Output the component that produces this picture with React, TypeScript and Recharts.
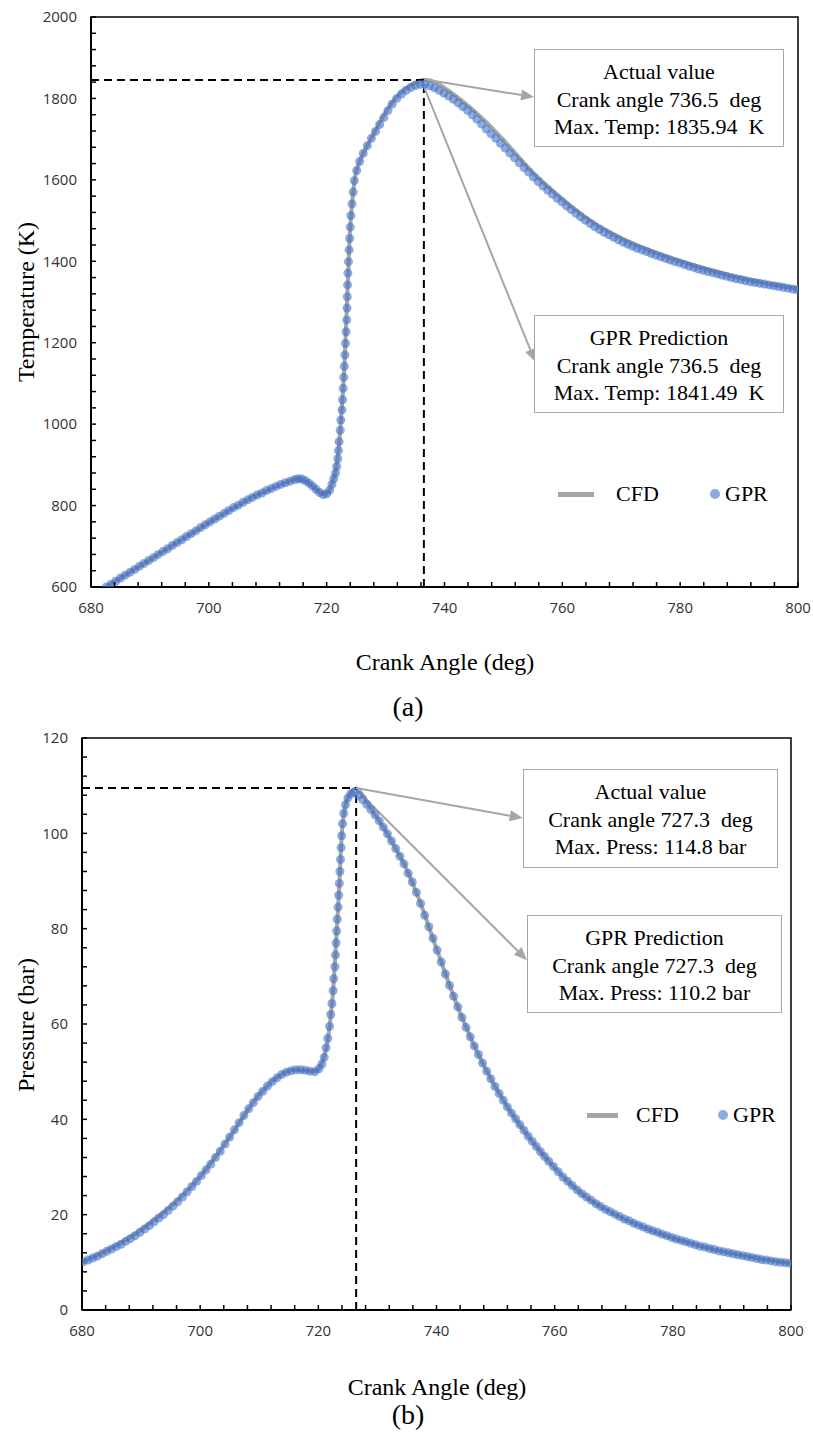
import { ComposedChart, Line, Scatter, XAxis, YAxis, ReferenceLine, ReferenceArea } from 'recharts'

// (a) temperature, GPR points
const tempGprAngle = [
  682.6, 683.4, 684.2, 685.0, 685.8, 686.6, 687.4, 688.2, 689.0, 689.8, 690.6, 691.4, 692.2, 693.0, 693.8,
  694.6, 695.4, 696.2, 697.0, 697.8, 698.6, 699.4, 700.2, 701.0, 701.8, 702.6, 703.4, 704.2, 705.0, 705.8,
  706.6, 707.4, 708.2, 709.0, 709.8, 710.6, 711.4, 712.2, 713.0, 713.8, 714.6, 715.2, 715.8, 716.4, 717.0,
  717.6, 718.2, 718.8, 719.4, 720.0, 720.5, 720.9, 721.2, 721.5, 721.7, 721.9, 722.0, 722.1, 722.3, 722.4,
  722.6, 722.7, 722.8, 722.9, 723.0, 723.1, 723.2, 723.3, 723.4, 723.45, 723.5, 723.55, 723.6, 723.7, 723.8,
  723.9, 724.0, 724.1, 724.3, 724.5, 724.7, 725.1, 725.6, 726.2, 726.9, 727.6, 728.3, 729.0, 729.7, 730.4,
  731.1, 731.9, 732.7, 733.5, 734.3, 735.1, 735.9, 736.7, 737.5, 738.3, 739.1, 739.9, 740.7, 741.5, 742.3,
  743.1, 743.9, 744.7, 745.5, 746.3, 747.1, 747.9, 748.7, 749.5, 750.3, 751.1, 751.9, 752.7, 753.5, 754.3,
  755.1, 755.9, 756.7, 757.5, 758.3, 759.1, 759.9, 760.7, 761.5, 762.3, 763.1, 763.9, 764.7, 765.5, 766.3,
  767.1, 767.9, 768.7, 769.5, 770.3, 771.1, 771.9, 772.7, 773.5, 774.3, 775.1, 775.9, 776.7, 777.5, 778.3,
  779.1, 779.9, 780.7, 781.5, 782.3, 783.1, 783.9, 784.7, 785.5, 786.3, 787.1, 787.9, 788.7, 789.5, 790.3,
  791.1, 791.9, 792.7, 793.5, 794.3, 795.1, 795.9, 796.7, 797.5, 798.3, 799.1, 799.9,
]
const tempGprValue = [
  600, 607, 614, 622, 629, 636, 643, 651, 658, 665, 672, 680, 687, 694, 702,
  709, 716, 724, 731, 738, 746, 753, 760, 767, 774, 781, 788, 795, 801, 808,
  814, 820, 826, 831, 837, 842, 847, 852, 856, 860, 864, 866, 865, 861, 855,
  848, 840, 832, 827, 829, 838, 852, 866, 880, 896, 915, 935, 957, 985, 1010,
  1035, 1060, 1088, 1115, 1142, 1170, 1198, 1227, 1256, 1285, 1313, 1342, 1371, 1399, 1428,
  1456, 1484, 1512, 1541, 1570, 1598, 1623, 1645, 1665, 1684, 1702, 1719, 1736, 1753, 1770,
  1786, 1800, 1811, 1820, 1827, 1832, 1835, 1835, 1831, 1826, 1820, 1813, 1806, 1798, 1789,
  1780, 1771, 1760, 1749, 1737, 1725, 1713, 1702, 1690, 1678, 1666, 1654, 1642, 1630, 1619,
  1607, 1596, 1585, 1575, 1565, 1555, 1546, 1536, 1527, 1518, 1509, 1501, 1493, 1485, 1478,
  1471, 1465, 1459, 1453, 1447, 1442, 1437, 1432, 1428, 1424, 1419, 1415, 1411, 1407, 1403,
  1399, 1396, 1392, 1388, 1385, 1381, 1378, 1375, 1372, 1369, 1366, 1363, 1360, 1357, 1355,
  1352, 1350, 1348, 1346, 1344, 1342, 1340, 1338, 1336, 1334, 1332, 1330,
]

// (a) temperature, CFD curve
const tempCfdAngle = [
  682.6, 686, 690, 695, 700, 705, 708, 710, 712, 713.5, 715, 716, 717, 718, 719.4, 720.3, 721, 721.6, 722,
  722.5, 723, 723.5, 724, 724.4, 724.8, 725.5, 726.5, 728, 730, 732, 734, 735.5, 736.5, 737.5, 738.5, 740,
  742, 744, 747, 750, 755, 760, 765, 770, 775, 780, 785, 790, 795, 800,
]
const tempCfdValue = [
  600, 631, 667, 713, 758, 801, 825, 838, 851, 859, 866, 863, 855, 843, 828, 834, 858, 890, 935,
  1025, 1140, 1315, 1485, 1555, 1605, 1642, 1673, 1714, 1766, 1806, 1830, 1842, 1846, 1845, 1839, 1826,
  1805, 1782, 1743, 1698, 1618, 1553, 1498, 1457, 1426, 1401, 1379, 1360, 1345, 1333,
]

// (b) pressure, GPR points
const pressGprAngle = [
  680.2, 681.0, 681.8, 682.6, 683.4, 684.2, 685.0, 685.8, 686.6, 687.4, 688.2, 689.0, 689.8, 690.6, 691.4,
  692.2, 693.0, 693.8, 694.6, 695.4, 696.2, 697.0, 697.8, 698.6, 699.4, 700.2, 701.0, 701.8, 702.6, 703.4,
  704.2, 705.0, 705.8, 706.6, 707.4, 708.2, 709.0, 709.8, 710.6, 711.4, 712.2, 713.0, 713.8, 714.6, 715.4,
  716.2, 717.0, 717.8, 718.6, 719.4, 720.1, 720.6, 721.0, 721.3, 721.6, 721.9, 722.1, 722.3, 722.5, 722.6,
  722.8, 722.9, 723.0, 723.1, 723.2, 723.35, 723.45, 723.55, 723.65, 723.75, 723.85, 723.95, 724.1, 724.3, 724.6,
  725.0, 725.5, 726.1, 726.8, 727.5, 728.2, 728.9, 729.6, 730.3, 731.0, 731.7, 732.4, 733.1, 733.8, 734.5,
  735.2, 735.9, 736.6, 737.3, 738.0, 738.7, 739.4, 740.1, 740.8, 741.5, 742.2, 742.9, 743.6, 744.3, 745.0,
  745.7, 746.4, 747.1, 747.8, 748.5, 749.2, 749.9, 750.6, 751.3, 752.0, 752.7, 753.4, 754.1, 754.8, 755.5,
  756.2, 756.9, 757.6, 758.3, 759.0, 759.8, 760.6, 761.4, 762.2, 763.0, 763.8, 764.6, 765.4, 766.2, 767.0,
  767.8, 768.6, 769.4, 770.2, 771.0, 771.8, 772.6, 773.4, 774.2, 775.0, 775.8, 776.6, 777.4, 778.2, 779.0,
  779.8, 780.6, 781.4, 782.2, 783.0, 783.8, 784.6, 785.4, 786.2, 787.0, 787.8, 788.6, 789.4, 790.2, 791.0,
  791.8, 792.6, 793.4, 794.2, 795.0, 795.8, 796.6, 797.4, 798.2, 799.0, 799.8,
]
const pressGprValue = [
  10.1, 10.5, 10.9, 11.3, 11.8, 12.3, 12.8, 13.3, 13.8, 14.4, 15.0, 15.6, 16.3, 17.0, 17.7,
  18.5, 19.3, 20.0, 20.9, 21.8, 22.7, 23.7, 24.8, 25.9, 27.0, 28.2, 29.4, 30.6, 32.0, 33.3,
  34.8, 36.3, 37.8, 39.3, 40.8, 42.2, 43.5, 44.8, 45.9, 47.0, 47.9, 48.7, 49.4, 49.9, 50.2,
  50.4, 50.4, 50.3, 50.1, 50.0, 50.6, 51.6, 53.0, 55.0, 57.0, 59.5, 62.0, 64.3, 67.0, 69.5,
  72.0, 74.5, 77.0, 79.5, 82.0, 84.5, 87.0, 89.5, 92.0, 94.5, 97.0, 99.5, 102.0, 104.2, 106.0,
  107.4, 108.3, 108.6, 108.0, 107.1, 106.1, 105.0, 103.9, 102.6, 101.3, 99.9, 98.4, 96.8, 95.2, 93.6,
  91.6, 89.8, 87.6, 85.3, 82.8, 80.4, 78.0, 75.5, 73.0, 70.5, 68.1, 65.8, 63.6, 61.4, 59.3,
  57.3, 55.4, 53.6, 51.8, 50.1, 48.5, 46.9, 45.4, 44.0, 42.6, 41.3, 40.1, 38.9, 37.7, 36.5,
  35.4, 34.3, 33.2, 32.2, 31.2, 30.1, 29.0, 27.9, 27.0, 26.1, 25.2, 24.4, 23.7, 23.0, 22.3,
  21.7, 21.1, 20.6, 20.1, 19.6, 19.1, 18.7, 18.2, 17.8, 17.4, 17.0, 16.6, 16.3, 15.9, 15.6,
  15.2, 14.9, 14.6, 14.3, 14.0, 13.7, 13.4, 13.2, 12.9, 12.7, 12.4, 12.2, 12.0, 11.8, 11.6,
  11.4, 11.2, 11.0, 10.8, 10.6, 10.5, 10.3, 10.1, 10.0, 9.9, 9.8,
]

// (b) pressure, CFD curve
const pressCfdAngle = [
  680, 690, 700, 705, 710, 713, 716, 719.5, 720.5, 721.5, 722, 722.5, 723, 723.5, 724, 724.5, 725.2, 726.4,
  727.5, 729, 731, 733, 735, 737, 740, 744, 748, 752, 756, 760, 765, 770, 775, 780, 785, 790, 795, 800,
]
const pressCfdValue = [
  10, 16.8, 28, 36.3, 45.2, 48.8, 50.4, 50.1, 51.5, 56, 60.5, 67, 77, 88, 100.5, 105.5, 108, 109.4,
  108, 105, 101.3, 97, 92.3, 86.3, 75.8, 62.3, 51.3, 42.6, 35.7, 29.8, 24, 20.2, 17.4, 15.1, 13.3, 11.9, 10.7, 9.8,
]

const angleTicks = [
  680, 684, 688, 692, 696, 700, 704, 708, 712, 716, 720, 724, 728, 732, 736, 740,
  744, 748, 752, 756, 760, 764, 768, 772, 776, 780, 784, 788, 792, 796, 800,
]
const tempTicks = [
  600, 640, 680, 720, 760, 800, 840, 880, 920, 960, 1000, 1040, 1080, 1120, 1160, 1200, 1240, 1280,
  1320, 1360, 1400, 1440, 1480, 1520, 1560, 1600, 1640, 1680, 1720, 1760, 1800, 1840, 1880, 1920, 1960, 2000,
]
const pressTicks = [
  0, 4, 8, 12, 16, 20, 24, 28, 32, 36, 40, 44, 48, 52, 56, 60, 64, 68, 72, 76, 80, 84, 88, 92, 96, 100,
  104, 108, 112, 116, 120,
]

const SERIF = '"Liberation Serif", "Times New Roman", serif'
const SANS = '"Open Sans", sans-serif'

function zip(angles: number[], values: number[]) {
  return angles.map((angle, i) => ({ angle, value: values[i] }))
}

function makeXTick(step: number) {
  return (props: any) => {
    const { x, y, payload } = props
    const v = payload.value
    return (
      <g>
        <line x1={x} y1={y} x2={x} y2={y - 5} stroke="#000" strokeWidth={1.5} />
        {v % step === 0 && (
          <text x={x} y={y + 21} dy="0.35em" textAnchor="middle" fill="#333" fontSize={15} fontFamily={SANS}>
            {v}
          </text>
        )}
      </g>
    )
  }
}

function makeYTick(step: number) {
  return (props: any) => {
    const { x, y, payload } = props
    const v = payload.value
    return (
      <g>
        <line x1={x} y1={y} x2={x + 5} y2={y} stroke="#000" strokeWidth={1.5} />
        {v % step === 0 && (
          <text x={x - 14} y={y} dy="0.35em" textAnchor="end" fill="#333" fontSize={15} fontFamily={SANS}>
            {v}
          </text>
        )}
      </g>
    )
  }
}

function Arrow(props: any) {
  const { x1, y1, x2, y2 } = props
  const ang = Math.atan2(y2 - y1, x2 - x1)
  const len = 13
  const half = 5.5
  const bx = x2 - len * Math.cos(ang)
  const by = y2 - len * Math.sin(ang)
  const px = -Math.sin(ang) * half
  const py = Math.cos(ang) * half
  return (
    <g>
      <line x1={x1} y1={y1} x2={bx} y2={by} stroke="#a6a6a6" strokeWidth={2} />
      <polygon points={`${x2},${y2} ${bx + px},${by + py} ${bx - px},${by - py}`} fill="#a6a6a6" />
    </g>
  )
}

const gprDot = (p: any) => <circle cx={p.cx} cy={p.cy} r={4.5} fill="#4472C4" fillOpacity={0.6} />

const abs = (left: number, top: number, extra: any = {}) => ({ position: 'absolute' as const, left, top, ...extra })

function InfoBox({ left, top, width, height, lines }: { left: number; top: number; width: number; height: number; lines: string[] }) {
  return (
    <div
      style={abs(left, top, {
        width,
        height,
        boxSizing: 'border-box',
        border: '1.5px solid #a6a6a6',
        background: '#fff',
        fontFamily: SERIF,
        fontSize: '22px',
        lineHeight: '27.5px',
        textAlign: 'center',
        paddingTop: '8px',
        color: '#000',
      })}
    >
      {lines.map((l) => (
        <div key={l} style={{ whiteSpace: 'pre' }}>{l}</div>
      ))}
    </div>
  )
}

function Legend({ swatchX, swatchW, y, cfdX, dotX, gprX }: { swatchX: number; swatchW: number; y: number; cfdX: number; dotX: number; gprX: number }) {
  const text = { fontFamily: SERIF, fontSize: '22px', lineHeight: '22px', color: '#000' }
  return (
    <>
      <div style={abs(swatchX, y - 2.5, { width: swatchW, height: 5, background: '#a6a6a6' })} />
      <div style={abs(cfdX, y - 11, text)}>CFD</div>
      <div style={abs(dotX - 5, y - 5, { width: 10, height: 10, borderRadius: '50%', background: '#8faadc' })} />
      <div style={abs(gprX, y - 11, text)}>GPR</div>
    </>
  )
}

const tempCfd = zip(tempCfdAngle, tempCfdValue)
const tempGpr = zip(tempGprAngle, tempGprValue)
const pressCfd = zip(pressCfdAngle, pressCfdValue)
const pressGpr = zip(pressGprAngle, pressGprValue)

export default function App() {
  const title = { fontFamily: SERIF, fontSize: '24px', color: '#000', whiteSpace: 'nowrap' as const }
  return (
    <div style={{ position: 'absolute', left: 0, top: 0, width: 813, height: 1440, background: '#fff', overflow: 'hidden' }}>
      {/* (a) temperature */}
      <div style={abs(0, 0)}>
        <ComposedChart width={813} height={700} margin={{ top: 17, right: 15, left: 0, bottom: 0 }}>
          <XAxis
            type="number"
            dataKey="angle"
            domain={[680, 800]}
            ticks={angleTicks}
            interval={0}
            height={113}
            tickSize={0}
            tickMargin={0}
            tickLine={false}
            tick={makeXTick(20)}
            axisLine={{ stroke: '#000', strokeWidth: 2 }}
            allowDataOverflow
          />
          <YAxis
            type="number"
            dataKey="value"
            domain={[600, 2000]}
            ticks={tempTicks}
            interval={0}
            width={91}
            tickSize={0}
            tickMargin={0}
            tickLine={false}
            tick={makeYTick(200)}
            axisLine={{ stroke: '#000', strokeWidth: 2 }}
            allowDataOverflow
          />
          <ReferenceArea x1={680} x2={800} y1={600} y2={2000} fill="none" stroke="#000" strokeWidth={1.5} />
          <Line data={tempCfd} dataKey="value" type="monotone" stroke="#a6a6a6" strokeWidth={4} dot={false} isAnimationActive={false} />
          <Scatter data={tempGpr} dataKey="value" shape={gprDot} isAnimationActive={false} />
          <ReferenceLine segment={[{ x: 680, y: 1845 }, { x: 736.5, y: 1845 }]} stroke="#000" strokeWidth={2} strokeDasharray="8 5" />
          <ReferenceLine segment={[{ x: 736.5, y: 600 }, { x: 736.5, y: 1845 }]} stroke="#000" strokeWidth={2} strokeDasharray="8 5" />
          <ReferenceLine segment={[{ x: 737.2, y: 1845 }, { x: 755.2, y: 1803.5 }]} shape={Arrow} />
          <ReferenceLine segment={[{ x: 736.2, y: 1840 }, { x: 755.4, y: 1152.6 }]} shape={Arrow} />
        </ComposedChart>
      </div>
      <InfoBox left={534} top={49} width={250} height={98} lines={['Actual value', 'Crank angle 736.5  deg', 'Max. Temp: 1835.94  K']} />
      <InfoBox left={534} top={315} width={250} height={98} lines={['GPR Prediction', 'Crank angle 736.5  deg', 'Max. Temp: 1841.49  K']} />
      <Legend swatchX={558} swatchW={36} y={494} cfdX={616} dotX={715} gprX={725} />
      <div style={abs(26, 302, { ...title, transform: 'translate(-50%, -50%) rotate(-90deg)' })}>Temperature (K)</div>
      <div style={abs(445, 662, { ...title, transform: 'translate(-50%, -50%)' })}>Crank Angle (deg)</div>
      <div style={abs(408, 707, { ...title, fontSize: '28px', transform: 'translate(-50%, -50%)' })}>(a)</div>

      {/* (b) pressure */}
      <div style={abs(0, 720)}>
        <ComposedChart width={813} height={700} margin={{ top: 18, right: 22, left: 0, bottom: 0 }}>
          <XAxis
            type="number"
            dataKey="angle"
            domain={[680, 800]}
            ticks={angleTicks}
            interval={0}
            height={110}
            tickSize={0}
            tickMargin={0}
            tickLine={false}
            tick={makeXTick(20)}
            axisLine={{ stroke: '#000', strokeWidth: 2 }}
            allowDataOverflow
          />
          <YAxis
            type="number"
            dataKey="value"
            domain={[0, 120]}
            ticks={pressTicks}
            interval={0}
            width={82}
            tickSize={0}
            tickMargin={0}
            tickLine={false}
            tick={makeYTick(20)}
            axisLine={{ stroke: '#000', strokeWidth: 2 }}
            allowDataOverflow
          />
          <ReferenceArea x1={680} x2={800} y1={0} y2={120} fill="none" stroke="#000" strokeWidth={1.5} />
          <Line data={pressCfd} dataKey="value" type="monotone" stroke="#a6a6a6" strokeWidth={4} dot={false} isAnimationActive={false} />
          <Scatter data={pressGpr} dataKey="value" shape={gprDot} isAnimationActive={false} />
          <ReferenceLine segment={[{ x: 680, y: 109.5 }, { x: 726.4, y: 109.5 }]} stroke="#000" strokeWidth={2} strokeDasharray="8 5" />
          <ReferenceLine segment={[{ x: 726.4, y: 0 }, { x: 726.4, y: 109.5 }]} stroke="#000" strokeWidth={2} strokeDasharray="8 5" />
          <ReferenceLine segment={[{ x: 726.4, y: 109.5 }, { x: 754.6, y: 103.2 }]} shape={Arrow} />
          <ReferenceLine segment={[{ x: 726.5, y: 109.1 }, { x: 755.3, y: 73.4 }]} shape={Arrow} />
        </ComposedChart>
      </div>
      <InfoBox left={523} top={769} width={255} height={99} lines={['Actual value', 'Crank angle 727.3  deg', 'Max. Press: 114.8 bar']} />
      <InfoBox left={527} top={915} width={255} height={98} lines={['GPR Prediction', 'Crank angle 727.3  deg', 'Max. Press: 110.2 bar']} />
      <Legend swatchX={587} swatchW={31} y={1115} cfdX={636} dotX={723} gprX={733} />
      <div style={abs(26, 1025, { ...title, transform: 'translate(-50%, -50%) rotate(-90deg)' })}>Pressure (bar)</div>
      <div style={abs(437, 1387, { ...title, transform: 'translate(-50%, -50%)' })}>Crank Angle (deg)</div>
      <div style={abs(408, 1415, { ...title, fontSize: '28px', transform: 'translate(-50%, -50%)' })}>(b)</div>
    </div>
  )
}
